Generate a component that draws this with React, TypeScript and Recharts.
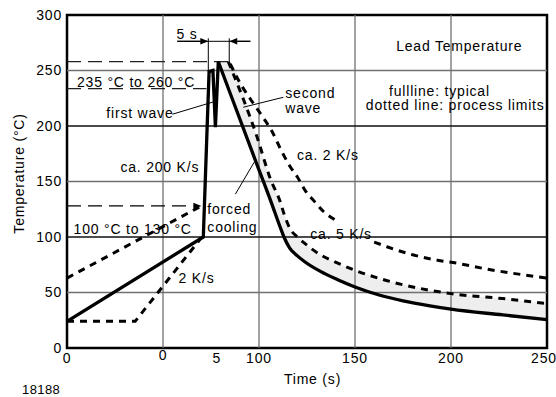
import React from "react"
import { ComposedChart, Line, Area, XAxis, YAxis, ReferenceLine, ReferenceArea, ReferenceDot } from "recharts"

// heating + two waves (typical profile)
const heatTime = [0, 71, 74, 76, 77.3, 78.8]
const heatTemp = [24, 100, 249, 250, 199, 258]

// cooling, typical profile and the lower process limit (gray band between them)
const coolTime = [78.8, 84, 99, 106, 111, 113, 116, 120, 124, 132, 141, 150, 163, 175, 189, 200, 227, 250]
const coolTypical = [258, 234, 165, 133, 109, 100, 90, 83, 77.5, 69, 61.5, 55, 47.5, 42.5, 38, 35, 29.8, 25.5]
const coolLower = [258, 258, 190, 152, 132, 121, 108, 100, 94, 84, 76.5, 70, 62.5, 57, 52, 49, 44.5, 40]

// cooling, upper process limit (null = hidden behind the "ca. 5 K/s" label)
const coolUpperTime = [85, 89.4, 98, 102.4, 106.8, 111, 116, 120, 124, 128.4, 133.6, 140, 150, 160, 167, 180, 193, 201, 219, 250]
const coolUpperTemp = [256, 241, 218, 207, 195, 180, 164, 154, 142, 133, 123, 115, null, 95.5, 91, 84, 79, 77, 71, 63]

// preheat process limits
const preUpperTime = [0, 69.5]
const preUpperTemp = [63, 127.5]
const preLowerTime = [0, 35.5, 70]
const preLowerTemp = [24, 24, 99.5]

const tempTicks = [0, 50, 100, 150, 200, 250, 300]
const timeTicks = [0, 50, 78, 100, 150, 200, 250]
const timeTickLabels = ["0", "0", "5", "100", "150", "200", "250"]
const timeTickLift = [0, 3, 0, 0, 0, 0, 0]
const gridTime = [50, 100, 150, 200]
const gridTempLight = [50, 150, 250]
const gridTempDark = [100, 200]

const rows = (ts: number[], vs: (number | null)[]) => ts.map((t, i) => ({ t, v: vs[i] }))

const heatRows = rows(heatTime, heatTemp)
const typicalRows = rows(coolTime, coolTypical)
const lowerRows = rows(coolTime.slice(1), coolLower.slice(1))
const upperRows = rows(coolUpperTime, coolUpperTemp)
const bandRows = coolTime.map((t, i) => ({ t, v: [coolTypical[i], coolLower[i]] }))

const FONT = "'Liberation Sans', Arial, Helvetica, sans-serif"
const txt = { fontFamily: FONT, fontSize: 14, letterSpacing: 0.8, fill: "#000" }

// text notes [time, temp (baseline), text, anchor]
const notes: [number, number, string, string][] = [
	[62.5, 278.8, "5 s", "middle"],
	[5.2, 235.4, "235 °C to 260 °C", "start"],
	[20.5, 207, "first wave", "start"],
	[27.8, 158.9, "ca. 200 K/s", "start"],
	[3.45, 102.6, "100 °C to 130 °C", "start"],
	[73.1, 120.6, "forced", "start"],
	[73.1, 104.4, "cooling", "start"],
	[58.1, 58.2, "2 K/s", "start"],
	[113.7, 225.2, "second", "start"],
	[113.7, 211.8, "wave", "start"],
	[119.8, 169.7, "ca. 2 K/s", "start"],
	[126.7, 98.1, "ca. 5 K/s", "start"],
	[204.3, 267.8, "Lead Temperature", "middle"],
	[194, 227.4, "fullline: typical", "middle"],
	[202.2, 214.2, "dotted line: process limits", "middle"],
]

// white boxes behind some labels [t1, t2, v1, v2]
const masks: [number, number, number, number][] = [
	[4.5, 56.5, 232, 251.5],
	[19.5, 54.3, 205.2, 224.1],
	[26.7, 68.9, 157.5, 171.9],
	[118.9, 152.2, 167.4, 181.8],
	[125.7, 159, 95.4, 109.8],
]

// leader lines [t1, v1, t2, v2]
const leaders: [number, number, number, number][] = [
	[54.9, 210.6, 76.2, 221.7],
	[112.7, 225.9, 91.8, 216.9],
	[87.7, 138.6, 97.5, 167.4],
	[73.6, 279, 73.6, 249],
	[84.5, 279, 84.5, 258],
	[57.4, 276.3, 95.5, 276.3],
]

const arrowShape = (dash?: string) => (p: any) => {
	const { x1, y1, x2, y2 } = p
	const a = Math.atan2(y2 - y1, x2 - x1)
	const L = 8
	const W = 3.2
	const bx = x2 - L * Math.cos(a)
	const by = y2 - L * Math.sin(a)
	const pts = `${x2},${y2} ${bx - W * Math.sin(a)},${by + W * Math.cos(a)} ${bx + W * Math.sin(a)},${by - W * Math.cos(a)}`
	return (
		<g>
			<line x1={x1} y1={y1} x2={bx} y2={by} stroke="#000" strokeWidth={1.2} strokeDasharray={dash} />
			<polygon points={pts} fill="#000" />
		</g>
	)
}

const TimeTick = (p: any) => {
	const i = timeTicks.indexOf(p.payload.value)
	return (
		<text x={p.x} y={p.y - timeTickLift[i]} dy="0.71em" textAnchor="middle" {...txt}>
			{timeTickLabels[i]}
		</text>
	)
}

const TempTick = (p: any) => (
	<text x={p.x} y={p.y} dy="0.355em" textAnchor="end" {...txt}>
		{p.payload.value}
	</text>
)

const dotted = { stroke: "#000", strokeWidth: 3, strokeDasharray: "7 6", dot: false, isAnimationActive: false }

function App() {
	return (
		<div style={{ position: "absolute", left: 0, top: 0, background: "#fff" }}>
			<ComposedChart width={556} height={397} margin={{ top: 15, right: 9, bottom: 19, left: 0 }}>
				<XAxis
					dataKey="t"
					type="number"
					domain={[0, 250]}
					ticks={timeTicks}
					tick={<TimeTick />}
					tickLine={false}
					axisLine={false}
					tickSize={3}
					tickMargin={2}
					height={30}
					label={({ viewBox }: any) => (
						<g>
							<text x={312.5} y={viewBox.y + 36} textAnchor="middle" {...txt}>
								Time (s)
							</text>
							<text x={22} y={394} {...txt} fontSize={13} letterSpacing={0.4}>
								18188
							</text>
						</g>
					)}
				/>
				<YAxis
					type="number"
					domain={[0, 300]}
					ticks={tempTicks}
					tick={<TempTick />}
					tickLine={false}
					axisLine={false}
					tickSize={3}
					tickMargin={2}
					width={67}
					label={({ viewBox }: any) => {
						const cx = viewBox.x + 24
						const cy = viewBox.y + viewBox.height / 2 - 8
						return (
							<text x={cx} y={cy} transform={`rotate(-90 ${cx} ${cy})`} textAnchor="middle" {...txt}>
								Temperature (°C)
							</text>
						)
					}}
				/>

				{gridTime.map((t) => (
					<ReferenceLine key={"gx" + t} x={t} stroke="#707070" strokeWidth={1.3} />
				))}
				{gridTempLight.map((v) => (
					<ReferenceLine key={"gy" + v} y={v} stroke="#707070" strokeWidth={1.3} />
				))}
				{gridTempDark.map((v) => (
					<ReferenceLine key={"gd" + v} y={v} stroke="#111" strokeWidth={1.3} />
				))}

				<Area data={bandRows} dataKey="v" type="monotone" fill="#eeeeee" fillOpacity={1} stroke="none" isAnimationActive={false} />

				<ReferenceLine segment={[{ x: 0, y: 258 }, { x: 84.5, y: 258 }]} stroke="#222" strokeWidth={1.2} strokeDasharray="14 7" />
				<ReferenceLine segment={[{ x: 0, y: 233.7 }, { x: 72.6, y: 233.7 }]} stroke="#222" strokeWidth={1.2} strokeDasharray="14 7" />
				<ReferenceLine segment={[{ x: 0, y: 128 }, { x: 70, y: 128 }]} shape={arrowShape("14 7")} />

				<Line data={rows(preUpperTime, preUpperTemp)} dataKey="v" type="linear" {...dotted} />
				<Line data={rows(preLowerTime, preLowerTemp)} dataKey="v" type="linear" {...dotted} />
				<Line data={upperRows} dataKey="v" type="monotone" connectNulls={false} {...dotted} />
				<Line data={lowerRows} dataKey="v" type="monotone" {...dotted} />
				<Line data={heatRows} dataKey="v" type="linear" stroke="#000" strokeWidth={3.3} dot={false} isAnimationActive={false} />
				<Line data={typicalRows} dataKey="v" type="monotone" stroke="#000" strokeWidth={3.3} dot={false} isAnimationActive={false} />

				{masks.map((m, i) => (
					<ReferenceArea key={"m" + i} x1={m[0]} x2={m[1]} y1={m[2]} y2={m[3]} fill="#fff" fillOpacity={1} stroke="none" />
				))}

				{leaders.map((l, i) => (
					<ReferenceLine key={"l" + i} segment={[{ x: l[0], y: l[1] }, { x: l[2], y: l[3] }]} stroke="#000" strokeWidth={1} />
				))}
				<ReferenceLine segment={[{ x: 57.4, y: 276.3 }, { x: 73.6, y: 276.3 }]} shape={arrowShape()} />
				<ReferenceLine segment={[{ x: 95.5, y: 276.3 }, { x: 84.5, y: 276.3 }]} shape={arrowShape()} />

				{notes.map((n, i) => (
					<ReferenceDot
						key={"n" + i}
						x={n[0]}
						y={n[1]}
						r={0}
						shape={(p: any) => (
							<text x={p.cx} y={p.cy} textAnchor={n[3] as any} {...txt}>
								{n[2]}
							</text>
						)}
					/>
				))}

				<ReferenceArea x1={0} x2={250} y1={0} y2={300} fill="none" fillOpacity={0} stroke="#000" strokeWidth={2.5} ifOverflow="visible" />
			</ComposedChart>
		</div>
	)
}

export default App
